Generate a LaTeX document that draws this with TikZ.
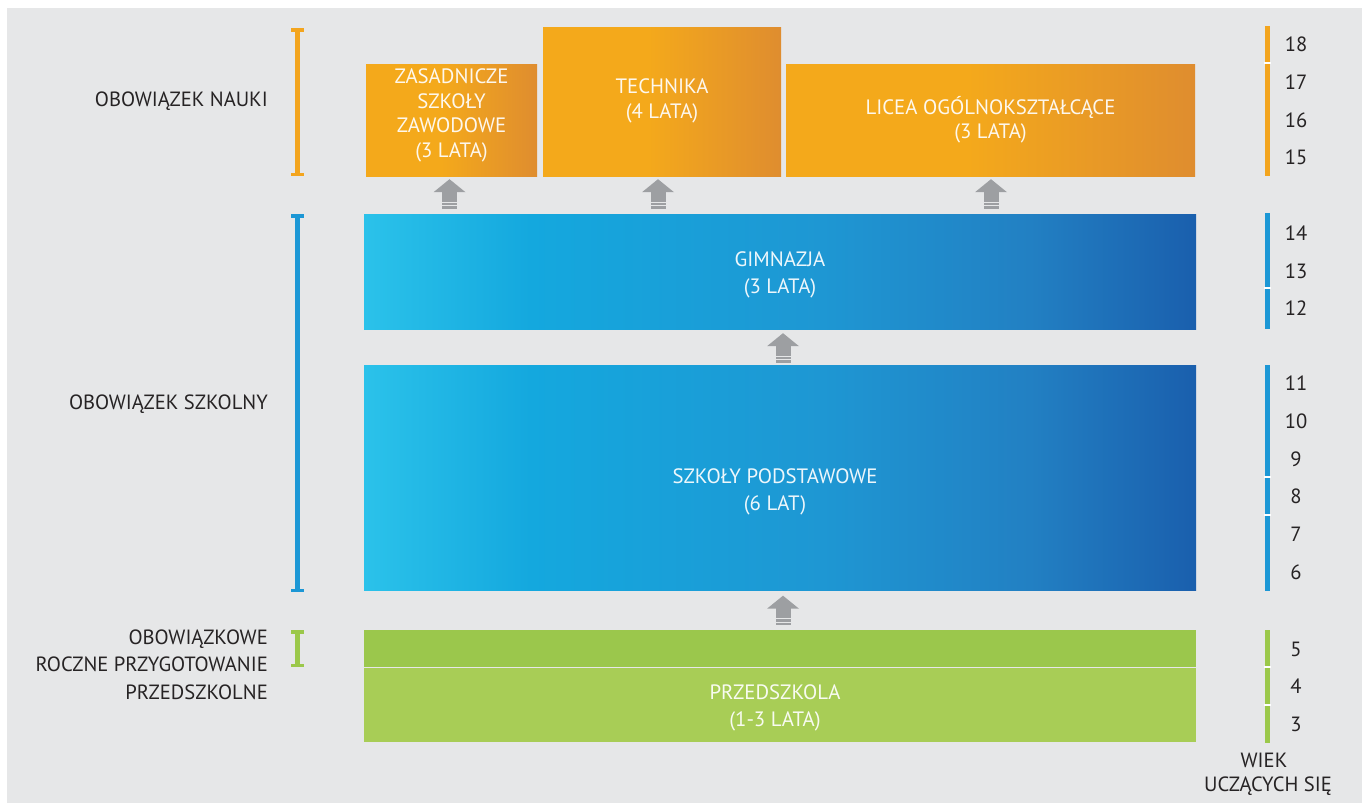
\documentclass[tikz,border=0pt]{standalone}
\usepackage{fontspec}
\setmainfont{PT Sans}
\usetikzlibrary{calc}
\definecolor{bg}{HTML}{E6E7E8}
\definecolor{txt}{HTML}{262324}
\definecolor{orA}{HTML}{F4A91B}
\definecolor{orB}{HTML}{DF8D2F}
\definecolor{blA}{HTML}{2BC2EA}
\definecolor{blB}{HTML}{14A8DE}
\definecolor{blM}{HTML}{1E97D3}
\definecolor{blN}{HTML}{2280C3}
\definecolor{blC}{HTML}{1A5FAD}
\definecolor{grA}{HTML}{9BC74C}
\definecolor{grB}{HTML}{A8CD56}
\definecolor{arr}{HTML}{9D9FA2}
\definecolor{orL}{HTML}{F3A51E}
\definecolor{blL}{HTML}{1C97D5}
\definecolor{grL}{HTML}{9BC84A}
\pgfdeclarehorizontalshading{orshade}{100bp}{color(0bp)=(orA); color(25bp)=(orA); color(47bp)=(orA); color(75bp)=(orB); color(100bp)=(orB)}
\pgfdeclarehorizontalshading{blshade}{100bp}{color(0bp)=(blA); color(25bp)=(blA); color(35bp)=(blB); color(52.5bp)=(blM); color(65bp)=(blN); color(75bp)=(blC); color(100bp)=(blC)}
\tikzset{
  x=1pt, y=-1pt,
  lbl/.style={font=\fontsize{20.6}{27.5}\selectfont, text=txt, inner sep=0pt},
  boxtext/.style={font=\fontsize{20.8}{24.5}\selectfont, text=white, text opacity=0.92, align=center, inner sep=0pt},
  orbox/.style={shade, shading=orshade, inner sep=0pt, draw=none},
  blbox/.style={shade, shading=blshade, inner sep=0pt, draw=none},
  agenum/.style={font=\fontsize{20.6}{24}\selectfont, text=txt, inner sep=0pt},
  uparr/.pic={
    \fill[arr] (-16,13) -- (0,0) -- (16,13) -- cycle;
    \fill[arr] (-7.5,12.5) rectangle (7.5,22.5);
    \fill[arr] (-7.5,23.7) rectangle (7.5,25.9);
    \fill[arr] (-7.5,27.1) rectangle (7.5,29.3);
  }
}
\begin{document}
\begin{tikzpicture}
\useasboundingbox (0,0) rectangle (1362,803);
\fill[white] (0,0) rectangle (1362,803);
\fill[bg] (7,8) rectangle (1362,803);

% boxes
\node[orbox, minimum width=171pt, minimum height=112pt] (zsz) at (451.5,120) {};
\node[orbox, minimum width=238pt, minimum height=149pt] (tech) at (662,101.5) {};
\node[orbox, minimum width=409pt, minimum height=112pt] (lic) at (990.5,120) {};
\node[blbox, minimum width=832pt, minimum height=115pt] (gim) at (780,271.5) {};
\node[blbox, minimum width=832pt, minimum height=225pt] (szp) at (780,477.5) {};
\node[fill=grA, inner sep=0pt, minimum width=832pt, minimum height=36.5pt] (orp) at (780,648.25) {};
\node[fill=grB, inner sep=0pt, minimum width=832pt, minimum height=74.5pt] (prz) at (780,704.75) {};

% box texts
\node[boxtext] (tzsz) at (451.5,115.5) {ZASADNICZE\\SZKOŁY\\ZAWODOWE\\(3 LATA)};
\node[boxtext] (ttech) at (662,101) {TECHNIKA\\(4 LATA)};
\node[boxtext] (tlic) at (990.5,119.5) {LICEA OGÓLNOKSZTAŁCĄCE\\(3 LATA)};
\node[boxtext, font=\fontsize{20.8}{27}\selectfont] (tgim) at (780,274.5) {GIMNAZJA\\(3 LATA)};
\node[boxtext, font=\fontsize{20.8}{27}\selectfont] (tszp) at (775,491.5) {SZKOŁY PODSTAWOWE\\(6 LAT)};
\node[boxtext, font=\fontsize{20.8}{27}\selectfont] (tprz) at (775,707.5) {PRZEDSZKOLA\\(1-3 LATA)};

% arrows
\pic at ($(zsz.south)+(-2,3)$) {uparr};
\pic at ($(tech.south)+(-4,3)$) {uparr};
\pic at ($(lic.south)+(0.5,3)$) {uparr};
\pic at ($(gim.south)+(3,4)$) {uparr};
\pic at ($(szp.south)+(3,5.5)$) {uparr};

% left brackets
\fill[orL] (294.5,28) rectangle (300,176);
\fill[orL] (290.5,28) rectangle (304,31.5);
\fill[orL] (290.5,172.5) rectangle (304,176);
\fill[blL] (294.5,214) rectangle (300,592);
\fill[blL] (290.5,214) rectangle (304,217.5);
\fill[blL] (290.5,588.5) rectangle (304,592);
\fill[grL] (294.5,630) rectangle (300,667);
\fill[grL] (290.5,630) rectangle (304,633.5);
\fill[grL] (290.5,663.5) rectangle (304,667);

% left labels
\node[lbl, anchor=east] (ln) at (268,101) {OBOWIĄZEK NAUKI};
\node[lbl, anchor=east] (ls) at (268,404) {OBOWIĄZEK SZKOLNY};
\node[lbl, anchor=east, align=right] (lp) at (268,664.5) {OBOWIĄZKOWE\\ROCZNE PRZYGOTOWANIE\\PRZEDSZKOLNE};

% right scale bars
\fill[orL] (1265,26) rectangle (1270,176);
\fill[blL] (1265,213) rectangle (1270,329);
\fill[blL] (1265,365) rectangle (1270,591);
\fill[grL] (1265,630) rectangle (1270,743);
\foreach \g in {63,288,477,515,667,705}{
  \fill[white] (1264,\g-0.6) rectangle (1271,\g+0.6);
}

% ages
\foreach \a/\yy in {18/44,17/82,16/120,15/157,14/233,13/271,12/308,11/383,10/421,9/459,8/496,7/534,6/572,5/649,4/686,3/724}{
  \node[agenum] (age\a) at (1296,\yy) {\a};
}
\node[lbl] (wiek) at (1264,760) {WIEK};
\node[lbl] (ucz) at (1268,786) {UCZĄCYCH SIĘ};
\end{tikzpicture}
\end{document}
